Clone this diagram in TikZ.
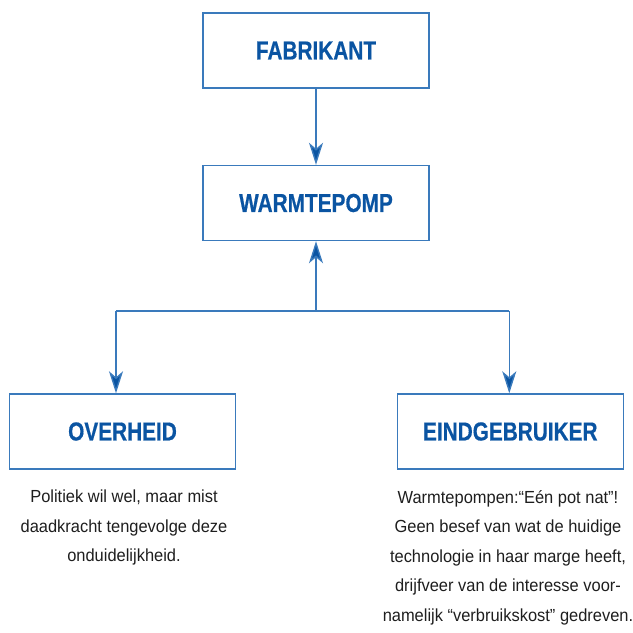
\documentclass[tikz,border=0pt]{standalone}
\usepackage{fontspec}
\setmainfont{Liberation Sans}
\newfontfamily\labelfont[FakeStretch=0.8, BoldFeatures={FakeBold=0.5}]{Liberation Sans}
\newfontfamily\bodyfont[FakeStretch=0.94]{Liberation Sans}
\usetikzlibrary{arrows.meta}
\definecolor{boxblue}{RGB}{58,122,188}
\definecolor{textblue}{RGB}{10,84,162}
\definecolor{bodygray}{RGB}{30,30,30}
\tikzset{
  stakebox/.style={draw=boxblue, line width=1.4pt, minimum width=226pt, minimum height=75pt,
    inner sep=0pt, text=textblue, font=\labelfont\bfseries\fontsize{26}{30}\selectfont},
  link/.style={draw=boxblue, line width=1.4pt},
  arr/.style={link, -{Stealth[length=22pt, width=14pt, inset=6pt, fill=textblue]}},
  note/.style={text=bodygray, align=center, inner sep=0pt, anchor=north,
    font=\bodyfont\fontsize{17.5}{29.5}\selectfont}
}
\begin{document}
\begin{tikzpicture}[x=1pt, y=-1pt]
\useasboundingbox (0,0) rectangle (633,633);
\node[stakebox] (fab) at (316,50.5) {FABRIKANT};
\node[stakebox] (wp) at (316,203) {WARMTEPOMP};
\node[stakebox] (ov) at (122.5,431.5) {OVERHEID};
\node[stakebox] (eg) at (510.3,431.5) {EINDGEBRUIKER};
\coordinate (j) at (316,311);
\coordinate (lj) at (116,311);
\coordinate (rj) at (509.3,311);
\draw[arr] (fab.south) -- (wp.north);
\draw[arr] (j) -- (wp.south);
\draw[link] (lj) -- (rj);
\draw[arr] (lj) -- (lj |- ov.north);
\draw[arr] (rj) -- (rj |- eg.north);
\node[note] (ovt) at (124,490) {Politiek wil wel, maar mist\\daadkracht tengevolge deze\\onduidelijkheid.};
\node[note] (egt) at (508,490) {Warmtepompen:“Eén pot nat”!\\Geen besef van wat de huidige\\technologie in haar marge heeft,\\drijfveer van de interesse voor-\\namelijk “verbruikskost” gedreven.};
\end{tikzpicture}
\end{document}
